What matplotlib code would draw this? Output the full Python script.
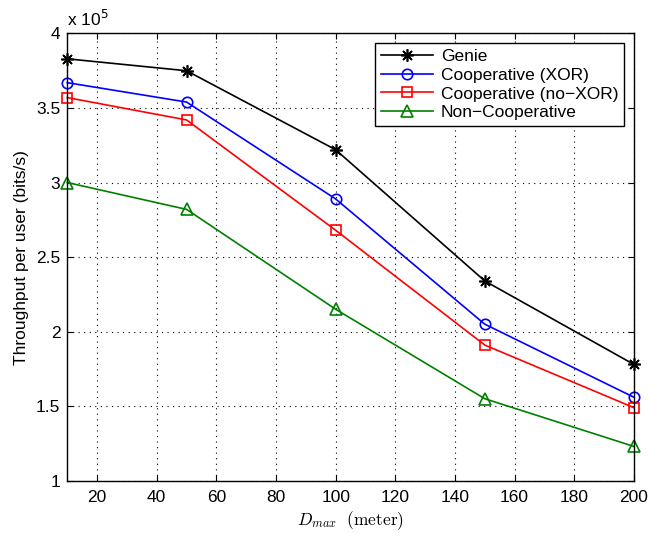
import matplotlib
matplotlib.use('Agg')
import matplotlib.pyplot as plt

# D_max values (meter)
d_max = [10, 50, 100, 150, 200]

# throughput per user, in units of 1e5 bits/s
genie = [3.83, 3.75, 3.22, 2.34, 1.78]
coop_xor = [3.67, 3.54, 2.89, 2.05, 1.56]
coop_noxor = [3.57, 3.42, 2.68, 1.91, 1.49]
non_coop = [3.00, 2.82, 2.15, 1.55, 1.23]

x_ticks = [20, 40, 60, 80, 100, 120, 140, 160, 180, 200]
y_ticks = [1, 1.5, 2, 2.5, 3, 3.5, 4]
y_labels = ['1', '1.5', '2', '2.5', '3', '3.5', '4']

plt.rcParams['font.family'] = ['Liberation Sans', 'DejaVu Sans']
plt.rcParams['mathtext.fontset'] = 'cm'
fs = 12.5

fig = plt.figure(figsize=(6.52, 5.34), dpi=100)
ax = fig.add_axes([0.1032, 0.0998, 0.869, 0.8375])

ax.plot(d_max, genie, color='black', marker=(8, 2, 0), markersize=9, lw=1.2,
        markeredgewidth=1.2, label='Genie', clip_on=False)
ax.plot(d_max, coop_xor, color='blue', marker='o', markersize=7.5, lw=1.2,
        markerfacecolor='none', markeredgewidth=1.2, label='Cooperative (XOR)',
        clip_on=False)
ax.plot(d_max, coop_noxor, color='red', marker='s', markersize=6.5, lw=1.2,
        markerfacecolor='none', markeredgewidth=1.2,
        label='Cooperative (no\u2212XOR)', clip_on=False)
ax.plot(d_max, non_coop, color='green', marker='^', markersize=8.5, lw=1.2,
        markerfacecolor='none', markeredgewidth=1.2,
        label='Non\u2212Cooperative', clip_on=False)

ax.set_xlim(10, 200)
ax.set_ylim(1, 4)
ax.set_xticks(x_ticks)
ax.set_yticks(y_ticks)
ax.set_yticklabels(y_labels)
ax.tick_params(direction='in', labelsize=fs, length=4, top=True, right=True,
               pad=5)
ax.tick_params(axis='x', pad=7)
ax.grid(True, linestyle=(0, (1, 4)), color='black', linewidth=0.8)
for s in ax.spines.values():
    s.set_linewidth(1.0)

ax.text(0.0, 1.01, r'x 10$^{5}$', transform=ax.transAxes, fontsize=fs,
        ha='left', va='bottom', math_fontfamily='dejavusans')

ax.set_xlabel(r'$D_{max}\ \ \mathrm{(meter)}$', fontsize=fs, labelpad=3)
ax.set_ylabel('Throughput per user (bits/s)', fontsize=fs, labelpad=5)

leg = ax.legend(loc='upper right', fontsize=fs, fancybox=False,
                edgecolor='black', framealpha=1, handlelength=3.0,
                borderaxespad=0.55, labelspacing=0.2, handletextpad=0.45,
                borderpad=0.35)
leg.get_frame().set_linewidth(1.0)

fig.savefig('out.png', dpi=100)
